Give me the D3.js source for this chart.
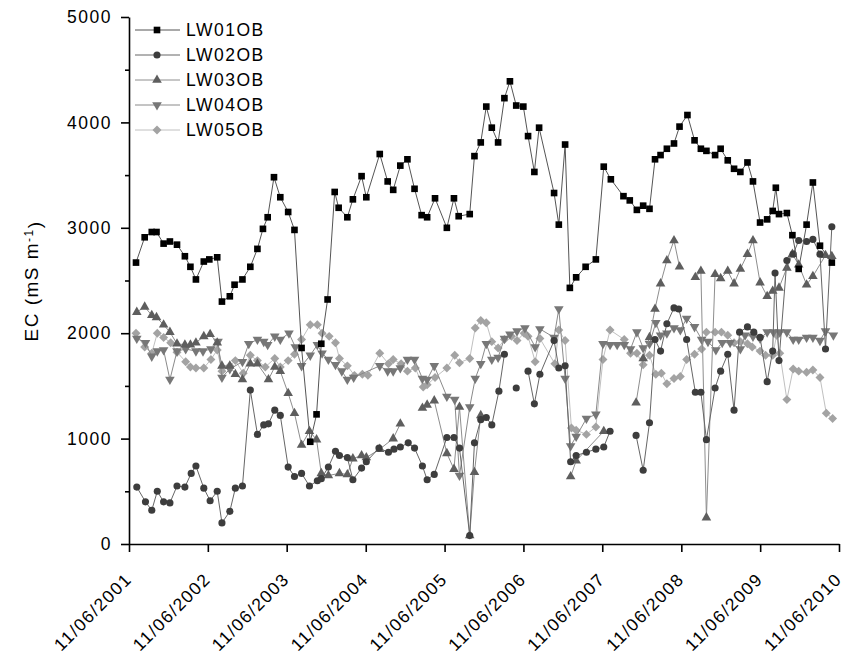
<!DOCTYPE html>
<html>
<head>
<meta charset="utf-8">
<script src="https://cdn.jsdelivr.net/npm/d3@7"></script>
<style>
  body { margin: 0; background: #fff; }
  text { font-family: "Liberation Sans", Arial, sans-serif; }
</style>
</head>
<body>
<svg id="chart" width="843" height="656"></svg>
<script>
// [decimal year, EC in mS/m]; null breaks the line
const lw01 = [
  [2001.53,2670],[2001.64,2910],[2001.73,2960],[2001.79,2960],[2001.88,2850],[2001.96,2870],
  [2002.05,2840],[2002.15,2730],[2002.22,2630],[2002.29,2510],[2002.39,2680],[2002.46,2700],
  [2002.56,2720],[2002.62,2300],[2002.72,2350],[2002.78,2460],[2002.88,2510],[2002.98,2630],
  [2003.07,2800],[2003.14,2990],[2003.20,3100],[2003.28,3480],[2003.36,3290],[2003.46,3150],
  [2003.54,2980],[2003.63,1860],[2003.74,970],[2003.82,1230],[2003.88,1900],[2003.96,2320],
  [2004.05,3340],[2004.10,3190],[2004.21,3100],[2004.28,3270],[2004.39,3490],[2004.45,3290],
  [2004.62,3700],[2004.72,3440],[2004.79,3360],[2004.88,3590],[2004.97,3650],[2005.06,3370],
  [2005.15,3120],[2005.22,3100],[2005.32,3280],[2005.47,3000],[2005.56,3280],[2005.62,3110],
  [2005.76,3130],[2005.82,3680],[2005.90,3810],[2005.97,4150],[2006.04,3950],[2006.12,3810],
  [2006.20,4230],[2006.27,4390],[2006.35,4160],[2006.44,4150],[2006.50,3870],[2006.58,3530],
  [2006.64,3950],[2006.83,3330],[2006.89,3030],[2006.97,3790],[2007.03,2430],[2007.11,2530],
  [2007.23,2630],[2007.36,2700],[2007.46,3580],[2007.55,3460],[2007.71,3300],[2007.79,3260],
  [2007.88,3170],[2007.96,3210],[2008.04,3180],[2008.11,3650],[2008.18,3690],[2008.26,3750],
  [2008.35,3800],[2008.42,3960],[2008.52,4070],[2008.61,3830],[2008.69,3750],[2008.76,3730],
  [2008.87,3690],[2008.94,3750],[2009.03,3640],[2009.11,3560],[2009.19,3530],[2009.28,3620],
  [2009.35,3440],[2009.44,3050],[2009.53,3080],[2009.60,3160],[2009.64,3380],[2009.68,3130],
  [2009.78,3140],[2009.85,2930],[2009.93,2610],[2010.03,3030],[2010.11,3430],[2010.20,2830],
  [2010.35,2670]
];

const lw02 = [
  [2001.54,540],[2001.65,400],[2001.73,320],[2001.80,500],[2001.88,400],[2001.96,390],
  [2002.05,550],[2002.15,540],[2002.23,670],[2002.29,740],[2002.39,530],[2002.47,410],
  [2002.56,500],[2002.62,200],[2002.72,310],[2002.79,530],[2002.88,550],[2002.98,1460],
  [2003.07,1040],[2003.15,1130],[2003.21,1140],[2003.29,1270],[2003.36,1220],[2003.46,730],
  [2003.54,640],[2003.63,670],[2003.73,550],[2003.83,600],[2003.88,620],[2003.97,730],
  [2004.06,880],[2004.11,840],[2004.21,820],[2004.28,610],[2004.39,720],[2004.45,780],
  [2004.61,910],[2004.73,870],[2004.80,900],[2004.88,920],[2004.98,960],[2005.06,910],
  [2005.16,740],[2005.22,610],[2005.31,660],[2005.47,1010],[2005.56,1010],[2005.63,910],
  [2005.76,80],[2005.82,960],[2005.90,1180],[2005.97,1200],[2006.04,1130],[2006.13,1450],
  [2006.20,1800],null,[2006.35,1480],null,[2006.50,1640],[2006.58,1330],[2006.65,1610],
  [2006.83,1930],[2006.89,1670],[2006.97,1690],[2007.04,780],[2007.11,840],[2007.24,870],
  [2007.36,900],[2007.46,920],[2007.54,1070],null,[2007.87,1030],[2007.96,700],[2008.04,1150],
  [2008.11,1940],[2008.18,1830],[2008.26,2090],[2008.35,2240],[2008.41,2230],[2008.51,1940],
  [2008.62,1440],[2008.69,1440],[2008.76,990],[2008.87,1480],[2008.94,1640],[2009.03,1800],
  [2009.11,1270],[2009.18,2010],[2009.28,2060],[2009.36,2010],[2009.44,1960],[2009.53,1540],
  [2009.60,1830],[2009.63,2570],[2009.68,1740],[2009.78,2690],[2009.86,2750],[2009.93,2880],
  [2010.03,2870],[2010.11,2890],[2010.20,2750],[2010.27,1850],[2010.35,3010]
];

const lw03 = [
  [2001.54,2200],[2001.64,2250],[2001.73,2170],[2001.79,2150],[2001.88,2080],[2001.96,2010],
  [2002.05,1900],[2002.15,1890],[2002.22,1890],[2002.29,1910],[2002.39,1970],[2002.47,1990],
  [2002.56,1910],[2002.62,1690],[2002.72,1690],[2002.79,1610],[2002.88,1560],[2002.98,1710],
  [2003.07,1710],[2003.21,1560],[2003.29,1680],[2003.36,1640],[2003.46,1430],[2003.54,1240],
  [2003.63,940],[2003.73,1070],[2003.82,990],[2003.88,670],[2003.97,650],[2004.11,670],
  [2004.21,660],[2004.28,810],[2004.39,840],[2004.45,820],[2004.62,900],[2004.79,1000],
  [2004.88,1140],null,[2005.16,1290],[2005.22,1320],[2005.31,1360],[2005.47,860],
  [2005.56,710],[2005.63,1300],[2005.76,80],[2005.82,680],[2005.90,1220],null,
  [2007.04,640],[2007.11,790],[2007.46,1070],null,[2007.87,1340],[2007.96,1760],
  [2008.04,1960],[2008.11,2230],[2008.18,2470],[2008.26,2690],[2008.35,2880],[2008.42,2630],
  null,[2008.62,2530],[2008.69,2590],[2008.76,250],[2008.87,2560],[2008.94,2520],
  [2009.03,2590],[2009.11,2470],[2009.19,2610],[2009.28,2750],[2009.35,2880],[2009.44,2480],
  [2009.53,2350],[2009.60,2400],[2009.68,2430],[2009.78,2620],[2009.85,2750],[2009.93,2650],
  [2010.03,2460],[2010.11,2540],[2010.27,2740],[2010.35,2730]
];

const lw04 = [
  [2001.54,1950],[2001.65,1910],[2001.73,1780],[2001.80,1830],[2001.88,1840],[2001.96,1560],
  [2002.05,1830],[2002.16,1850],[2002.29,1830],[2002.38,1830],[2002.48,1850],[2002.57,1920],
  [2002.62,1580],[2002.72,1660],[2002.88,1730],[2002.96,1900],[2003.07,1940],[2003.15,1920],
  [2003.20,1890],[2003.29,1970],[2003.36,1940],[2003.47,2000],[2003.55,1870],[2003.63,1690],
  [2003.74,1790],[2003.83,1890],[2003.89,1810],[2003.97,1750],[2004.06,1700],[2004.14,1640],
  [2004.21,1560],[2004.29,1580],[2004.62,1690],[2004.72,1640],[2004.79,1640],[2004.88,1670],
  [2004.97,1750],[2005.06,1750],[2005.16,1570],[2005.22,1560],[2005.31,1690],[2005.47,1400],
  [2005.57,1370],[2005.63,650],[2005.76,1300],[2005.83,1570],[2005.90,1710],[2005.97,1900],
  [2006.04,1750],[2006.12,1770],[2006.20,1950],[2006.27,1990],[2006.36,2020],[2006.46,2050],
  [2006.59,1870],[2006.65,2040],[2006.83,1960],[2006.89,2230],[2006.97,1570],[2007.04,930],
  [2007.11,1020],[2007.24,1190],[2007.36,1230],[2007.45,1900],[2007.54,1890],[2007.63,1890],
  [2007.72,1890],[2007.80,1850],[2007.88,2010],[2007.96,1860],[2008.04,1900],[2008.12,2100],
  [2008.18,1980],[2008.26,2000],[2008.35,2050],[2008.43,2030],[2008.51,2140],[2008.61,2060],
  [2008.70,1940],[2008.78,1920],[2008.88,1840],[2008.96,1910],[2009.06,1910],[2009.19,1850],
  [2009.25,1980],[2009.35,1970],[2009.44,1950],[2009.53,2010],[2009.61,2010],[2009.69,2010],
  [2009.78,2010],[2009.86,1940],[2009.93,1940],[2010.03,1960],[2010.11,1960],[2010.20,1930],
  [2010.27,2020],[2010.37,1980]
];

const lw05 = [
  [2001.53,2000],[2001.64,1870],[2001.73,1810],[2001.80,2000],[2001.88,1960],[2001.97,1910],
  [2002.05,1820],[2002.16,1730],[2002.22,1680],[2002.29,1670],[2002.39,1670],[2002.48,1750],
  [2002.56,1840],[2002.62,1640],[2002.72,1690],[2002.79,1740],[2002.89,1620],[2002.98,1790],
  [2003.07,1740],[2003.17,1680],[2003.29,1760],[2003.36,1680],[2003.46,1740],[2003.54,1800],
  [2003.63,1940],[2003.74,2080],[2003.83,2080],[2003.89,2000],[2003.98,1970],[2004.06,1910],
  [2004.11,1760],[2004.21,1690],[2004.30,1600],[2004.40,1610],[2004.47,1600],[2004.62,1810],
  [2004.73,1710],[2004.79,1750],[2004.89,1710],[2004.97,1640],[2005.07,1670],[2005.17,1490],
  [2005.22,1510],[2005.32,1580],[2005.47,1670],[2005.57,1790],[2005.63,1720],[2005.76,1760],
  [2005.83,2050],[2005.90,2120],[2005.97,2100],[2006.04,1920],[2006.12,1860],[2006.20,1940],
  [2006.29,1970],[2006.36,1930],[2006.45,2000],[2006.50,1970],[2006.59,1730],[2006.65,1950],
  [2006.84,1710],[2006.89,2030],[2006.97,1930],[2007.05,1100],[2007.11,1080],[2007.24,1040],
  [2007.36,1110],[2007.45,1750],[2007.54,2030],[2007.72,1940],[2007.80,1810],[2007.88,1810],
  [2007.96,1700],[2008.04,1790],[2008.12,1610],[2008.19,1620],[2008.26,1520],[2008.35,1570],
  [2008.43,1590],[2008.51,1750],[2008.61,1800],[2008.70,1850],[2008.76,2010],[2008.87,2010],
  [2008.95,2010],[2009.03,1980],[2009.11,1910],[2009.19,1920],[2009.28,1900],[2009.34,1870],
  [2009.44,1830],[2009.51,1790],[2009.60,1790],[2009.65,1980],[2009.69,1810],[2009.78,1370],
  [2009.86,1660],[2009.93,1640],[2010.03,1630],[2010.11,1650],[2010.20,1580],[2010.28,1240],
  [2010.36,1190]
];

const seriesNames = ["LW01OB", "LW02OB", "LW03OB", "LW04OB", "LW05OB"];
const tickYears = [2001, 2002, 2003, 2004, 2005, 2006, 2007, 2008, 2009, 2010];
const yTicks = [0, 1000, 2000, 3000, 4000, 5000];
const yMinorTicks = [500, 1500, 2500, 3500, 4500];

const svg = d3.select("#chart");

// decimal year -> Date
function toDate(t) {
  const yr = Math.floor(t);
  const a = new Date(yr, 0, 1), b = new Date(yr + 1, 0, 1);
  return new Date(+a + (t - yr) * (b - a));
}

const x = d3.scaleTime()
  .domain([new Date(2001, 5, 11), new Date(2010, 5, 11)])
  .range([129, 839]);
const y = d3.scaleLinear().domain([0, 5000]).range([544, 17]);

const series = [
  { name: seriesNames[0], data: lw01, shape: d3.symbolSquare, size: 44, rot: 0, fill: "#000", line: "#555" },
  { name: seriesNames[1], data: lw02, shape: d3.symbolCircle, size: 40, rot: 0, fill: "#3d3d3d", line: "#666" },
  { name: seriesNames[2], data: lw03, shape: d3.symbolTriangle, size: 40, rot: 0, fill: "#5e5e5e", line: "#8e8e8e" },
  { name: seriesNames[3], data: lw04, shape: d3.symbolTriangle, size: 40, rot: 180, fill: "#777", line: "#8a8a8a" },
  { name: seriesNames[4], data: lw05, shape: d3.symbolSquare, size: 40, rot: 45, fill: "#a3a3a3", line: "#c0c0c0" }
];

const line = d3.line()
  .defined((d) => d !== null)
  .x((d) => x(toDate(d[0])))
  .y((d) => y(d[1]));

// draw last series first so LW01 sits on top
series.slice().reverse().forEach((s) => {
  const g = svg.append("g");
  g.append("path")
    .datum(s.data)
    .attr("fill", "none")
    .attr("stroke", s.line)
    .attr("stroke-width", 1)
    .attr("d", line);
  g.selectAll("path.pt")
    .data(s.data.filter((d) => d !== null))
    .enter()
    .append("path")
    .attr("class", "pt")
    .attr("d", d3.symbol(s.shape, s.size))
    .attr("fill", s.fill)
    .attr("transform", (d) => `translate(${x(toDate(d[0]))},${y(d[1])}) rotate(${s.rot})`);
});

// axes
const fontSize = "17.5px";
const spacing = "1.5px";

const xAxis = svg.append("g")
  .attr("transform", "translate(0,544)")
  .call(
    d3.axisBottom(x)
      .tickValues(tickYears.map((yr) => new Date(yr, 5, 11)))
      .tickSize(8)
      .tickSizeOuter(0)
      .tickFormat(d3.timeFormat("%d/%m/%Y"))
  );
xAxis.selectAll("text")
  .attr("x", 0)
  .attr("y", 0)
  .attr("dy", "0.35em")
  .attr("text-anchor", "end")
  .attr("transform", "translate(-1,32) rotate(-45)");

svg.append("g")
  .attr("transform", "translate(129,0)")
  .call(
    d3.axisLeft(y)
      .tickValues(yTicks)
      .tickSize(8)
      .tickSizeOuter(0)
      .tickPadding(9)
      .tickFormat(d3.format("d"))
  );

svg.append("g")
  .attr("transform", "translate(129,0)")
  .call(d3.axisLeft(y).tickValues(yMinorTicks).tickSize(4).tickSizeOuter(0).tickFormat(""))
  .select(".domain").remove();

svg.selectAll(".tick line").attr("stroke", "#000").attr("stroke-width", 1.6);
svg.selectAll(".domain").attr("stroke", "#000").attr("stroke-width", 1.6);
svg.selectAll(".tick text")
  .attr("fill", "#000")
  .style("font-size", fontSize)
  .style("letter-spacing", spacing);

// y title
const yTitle = svg.append("text")
  .attr("transform", "translate(38,281) rotate(-90)")
  .attr("text-anchor", "middle")
  .style("font-size", "19px")
  .style("letter-spacing", spacing);
yTitle.append("tspan").text("EC (mS m");
yTitle.append("tspan").attr("dy", "-0.45em").style("font-size", "12px").text("-1");
yTitle.append("tspan").attr("dy", "0.45em").text(")");

// legend
const legend = svg.append("g");
series.forEach((s, i) => {
  const ly = 30 + i * 25;
  const row = legend.append("g");
  row.append("line")
    .attr("x1", 135).attr("x2", 180)
    .attr("y1", ly).attr("y2", ly)
    .attr("stroke", s.line).attr("stroke-width", 1);
  row.append("path")
    .attr("d", d3.symbol(s.shape, s.size))
    .attr("fill", s.fill)
    .attr("transform", `translate(157,${ly}) rotate(${s.rot})`);
  row.append("text")
    .attr("x", 186).attr("y", ly)
    .attr("dy", "0.35em")
    .style("font-size", fontSize)
    .style("letter-spacing", spacing)
    .text(s.name);
});
</script>
</body>
</html>
